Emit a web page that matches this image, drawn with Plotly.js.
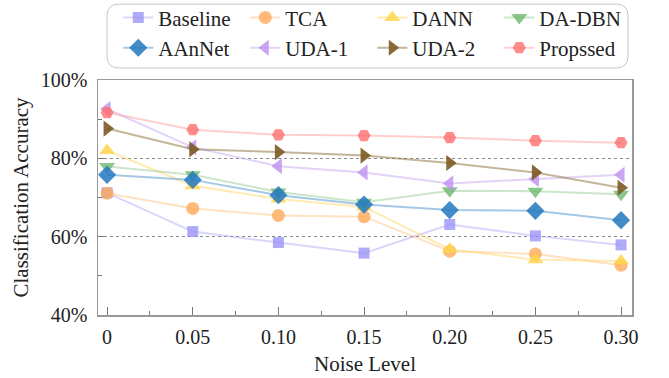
<!DOCTYPE html>
<html>
<head>
<meta charset="utf-8">
<script src="https://cdn.plot.ly/plotly-3.0.1.min.js"></script>
<style>
  html, body { margin: 0; padding: 0; background: #fff; }
  #chart { width: 669px; height: 378px; }
</style>
</head>
<body>
<div id="chart"></div>
<script>
// Noise levels on the x axis
const noiseLevels = [0, 0.05, 0.10, 0.15, 0.20, 0.25, 0.30];
const noiseLabels = ['0', '0.05', '0.10', '0.15', '0.20', '0.25', '0.30'];

// Classification accuracy (%) for each method
const baseline = [71.2, 61.3, 58.5, 55.8, 63.1, 60.2, 57.9];
const tca      = [71.1, 67.2, 65.4, 65.1, 56.3, 55.6, 52.7];
const dann     = [82.0, 73.0, 69.6, 67.6, 56.8, 54.1, 53.8];
const daDbn    = [77.9, 75.8, 71.4, 68.8, 71.7, 71.6, 70.8];
const aanNet   = [75.8, 74.5, 70.6, 68.2, 66.8, 66.6, 64.2];
const uda1     = [92.6, 82.8, 78.0, 76.4, 73.6, 74.7, 75.8];
const uda2     = [87.6, 82.3, 81.6, 80.7, 78.8, 76.4, 72.5];
const proposed = [91.7, 87.3, 86.0, 85.8, 85.3, 84.5, 84.0];

const yTickVals = [40, 60, 80, 100];
const yTickText = ['40%', '60%', '80%', '100%'];

const FONT = "'Liberation Serif', 'Times New Roman', serif";

function series(name, values, symbol, size, markerColor, lineColor) {
  return {
    type: 'scatter',
    mode: 'lines+markers',
    name: name,
    x: noiseLevels,
    y: values,
    line: { color: lineColor, width: 2 },
    marker: { symbol: symbol, size: size, color: markerColor, line: { width: 0 } },
    cliponaxis: false
  };
}

const traces = [
  series('Baseline', baseline, 'square',        11, 'rgba(150,143,245,0.75)', 'rgba(170,165,245,0.45)'),
  series('TCA',      tca,      'circle',        13, 'rgba(255,170,90,0.8)',   'rgba(255,190,120,0.45)'),
  series('DANN',     dann,     'triangle-up',   14, 'rgba(255,214,80,0.85)',  'rgba(255,215,110,0.5)'),
  series('DA-DBN',   daDbn,    'triangle-down', 14, 'rgba(110,185,110,0.8)',  'rgba(140,200,140,0.45)'),
  series('AAnNet',   aanNet,   'diamond',       14, 'rgba(35,120,190,0.85)',  'rgba(90,155,210,0.55)'),
  series('UDA-1',    uda1,     'triangle-left', 14, 'rgba(190,145,240,0.8)',  'rgba(200,170,240,0.5)'),
  series('UDA-2',    uda2,     'triangle-right',14, 'rgba(125,90,35,0.9)',   'rgba(150,120,70,0.55)'),
  series('Propssed', proposed, 'hexagon2',      13, 'rgba(255,110,110,0.8)',  'rgba(255,160,160,0.5)')
];

// Rounded frame drawn around the legend (paper coordinates)
const lx0 = 0.017, lx1 = 0.9925, lyT = 1.323, lyB = 1.051, rx = 0.022, ry = 0.05;
const legendFrame = [
  'M', lx0 + rx, lyT, 'L', lx1 - rx, lyT, 'Q', lx1, lyT, lx1, lyT - ry,
  'L', lx1, lyB + ry, 'Q', lx1, lyB, lx1 - rx, lyB,
  'L', lx0 + rx, lyB, 'Q', lx0, lyB, lx0, lyB + ry,
  'L', lx0, lyT - ry, 'Q', lx0, lyT, lx0 + rx, lyT, 'Z'
].join(' ');

const layout = {
  width: 669,
  height: 378,
  margin: { l: 98, r: 37, t: 80, b: 63, autoexpand: false },
  paper_bgcolor: '#ffffff',
  plot_bgcolor: '#ffffff',
  font: { family: FONT, size: 20, color: '#222' },
  showlegend: true,
  legend: {
    orientation: 'h',
    x: 0.038, xanchor: 'left',
    y: 1.352, yanchor: 'top',
    entrywidth: 82,
    entrywidthmode: 'pixels',
    font: { family: FONT, size: 21, color: '#222' },
    bgcolor: 'rgba(0,0,0,0)',
    borderwidth: 0,
    traceorder: 'normal'
  },
  xaxis: {
    range: [-0.0053, 0.3064],
    tickmode: 'array',
    tickvals: noiseLevels,
    ticktext: noiseLabels,
    ticks: 'inside',
    ticklen: 8,
    tickwidth: 1,
    tickcolor: '#777',
    ticklabelstandoff: 3,
    minor: { tick0: 0, dtick: 0.025, ticks: 'inside', ticklen: 4, tickcolor: '#777', showgrid: false },
    showline: true,
    linecolor: '#999',
    linewidth: 1.5,
    mirror: true,
    showgrid: false,
    zeroline: false,
    tickfont: { family: FONT, size: 20, color: '#222' },
    title: { text: 'Noise Level', font: { family: FONT, size: 21, color: '#222' }, standoff: 10 }
  },
  yaxis: {
    range: [40, 100],
    tickmode: 'array',
    tickvals: yTickVals,
    ticktext: yTickText,
    ticks: 'inside',
    ticklen: 6,
    tickwidth: 1,
    tickcolor: '#777',
    ticklabelstandoff: 5,
    minor: { tick0: 40, dtick: 10, ticks: 'inside', ticklen: 4, tickcolor: '#777', showgrid: false },
    showline: true,
    linecolor: '#999',
    linewidth: 1.5,
    mirror: true,
    showgrid: true,
    gridcolor: '#8a8a8a',
    griddash: 'dot',
    gridwidth: 1,
    zeroline: false,
    tickfont: { family: FONT, size: 20, color: '#222' },
    title: { text: 'Classification Accuracy', font: { family: FONT, size: 21, color: '#222' }, standoff: 6 }
  },
  shapes: [{
    type: 'path',
    xref: 'paper', yref: 'paper',
    path: legendFrame,
    line: { color: '#c8c8c8', width: 1 },
    fillcolor: 'rgba(0,0,0,0)',
    layer: 'above'
  }]
};

Plotly.newPlot('chart', traces, layout, { displayModeBar: false, staticPlot: true });
</script>
</body>
</html>
